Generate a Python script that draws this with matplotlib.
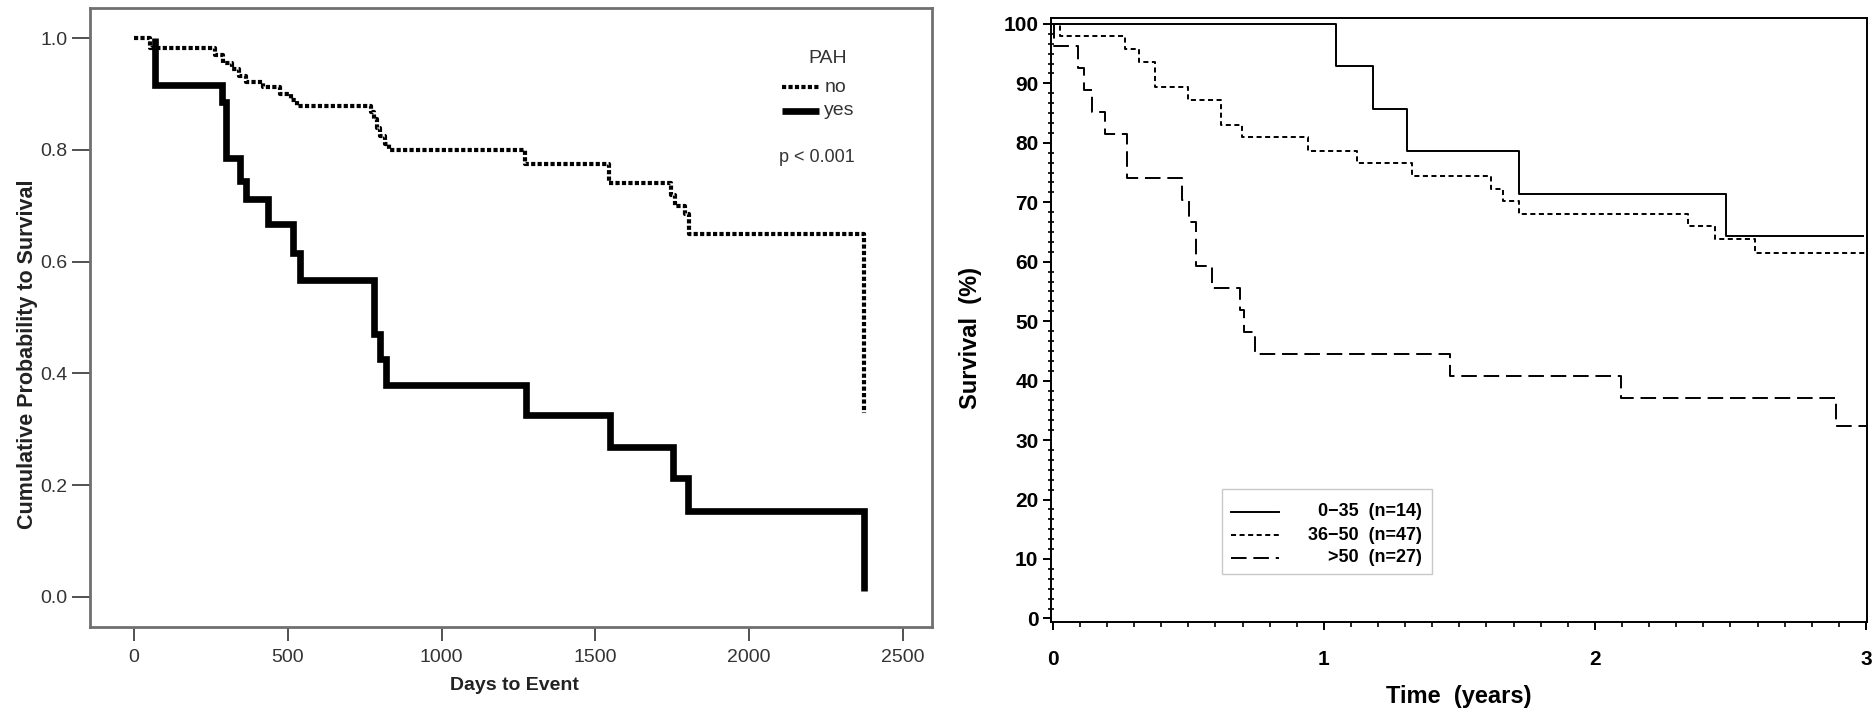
import matplotlib
matplotlib.use("Agg")
import matplotlib.pyplot as plt
from matplotlib.ticker import MultipleLocator, AutoMinorLocator, FormatStrFormatter
from matplotlib.patches import Rectangle

plt.rcParams['font.family'] = ['Liberation Sans', 'DejaVu Sans']

# left panel: Kaplan-Meier by PAH (days to event)
yes_days = [70, 70, 287, 300, 345, 365, 437, 518, 540, 780, 800, 820, 1275, 1549, 1753, 1802, 2372]
yes_surv = [1.0, 0.917, 0.885, 0.785, 0.745, 0.713, 0.667, 0.615, 0.567, 0.47, 0.425, 0.38, 0.325, 0.268, 0.212, 0.153, 0.01]
no_days = [0, 52, 265, 290, 320, 340, 365, 420, 475, 510, 530, 770, 780, 790, 800, 815, 830,
           1272, 1545, 1745, 1760, 1790, 1805, 2372]
no_surv = [1.0, 0.982, 0.97, 0.955, 0.945, 0.932, 0.922, 0.912, 0.90, 0.89, 0.878, 0.868, 0.855,
           0.84, 0.825, 0.81, 0.80, 0.775, 0.74, 0.72, 0.70, 0.685, 0.65, 0.33]
pah_labels = ['no', 'yes']
p_text = 'p < 0.001'

# right panel: survival (%) by age group (years)
grp_labels = ['0\u221235  (n=14)', '36\u221250  (n=47)', '>50  (n=27)']
g1_t = [0, 1.045, 1.18, 1.305, 1.72, 2.485]
g1_s = [100, 92.9, 85.7, 78.6, 71.4, 64.3]
g1_end = 2.99
g2_t = [0, 0.025, 0.266, 0.317, 0.376, 0.499, 0.62, 0.699, 0.942, 1.123, 1.327, 1.615, 1.662,
        1.721, 2.344, 2.443, 2.59]
g2_s = [100, 97.9, 95.7, 93.6, 89.4, 87.2, 83.0, 80.9, 78.7, 76.6, 74.5, 72.3, 70.2, 68.1,
        66.0, 63.8, 61.5]
g2_end = 3.0
g3_t = [0, 0.005, 0.093, 0.116, 0.145, 0.192, 0.274, 0.478, 0.503, 0.53, 0.586, 0.69, 0.705,
        0.745, 1.465, 2.098, 2.89]
g3_s = [100, 96.3, 92.6, 88.9, 85.2, 81.5, 74.1, 70.4, 66.7, 59.3, 55.6, 51.9, 48.1, 44.4,
        40.7, 37.0, 32.4]
g3_end = 3.0

fig = plt.figure(figsize=(18.73, 7.11), dpi=100)

# ---------------- left panel
ax1 = fig.add_axes([0.048, 0.1181, 0.4496, 0.8706])
no_style = dict(color='black', lw=3.0, linestyle=(0, (1.0, 0.55)), dash_capstyle='butt')
yes_style = dict(color='black', lw=4.8, solid_joinstyle='miter', solid_capstyle='butt')
ax1.step(no_days, no_surv, where='post', **no_style)
ax1.step(yes_days, yes_surv, where='post', **yes_style)
ax1.set_xlim(-143, 2594)
ax1.set_ylim(-0.054, 1.054)
ax1.xaxis.set_major_locator(MultipleLocator(500))
ax1.yaxis.set_major_locator(MultipleLocator(0.2))
ax1.yaxis.set_major_formatter(FormatStrFormatter('%.1f'))
for sp in ax1.spines.values():
    sp.set_color('#707070')
    sp.set_linewidth(2.0)
ax1.tick_params(axis='both', width=1.2, color='#333333', labelcolor='#333333', labelsize=14)
ax1.tick_params(axis='y', length=13, pad=3)
ax1.tick_params(axis='x', length=10, pad=6)
ax1.set_xlabel('Days to Event', fontsize=14, fontweight='bold', color='#222222')
ax1.xaxis.set_label_coords(0.5036, -0.08)
ax1.set_ylabel('Cumulative Probability to Survival', fontsize=15.5, fontweight='bold',
               color='#222222')
ax1.yaxis.set_label_coords(-0.062, 0.44)

# legend (PAH)
ax1.text(0.8765, 0.919, 'PAH', transform=ax1.transAxes, ha='center', va='center',
         fontsize=14, color='#333333')
ax1.plot([0.822, 0.866], [0.872, 0.872], transform=ax1.transAxes, **no_style)
ax1.plot([0.822, 0.866], [0.834, 0.834], transform=ax1.transAxes, **yes_style)
ax1.text(0.872, 0.872, pah_labels[0], transform=ax1.transAxes, ha='left', va='center',
         fontsize=14, color='#333333')
ax1.text(0.872, 0.834, pah_labels[1], transform=ax1.transAxes, ha='left', va='center',
         fontsize=14, color='#333333')
ax1.text(0.863, 0.759, p_text, transform=ax1.transAxes, ha='center', va='center',
         fontsize=13, color='#333333')

# ---------------- right panel
ax2 = fig.add_axes([0.5611, 0.1252, 0.4357, 0.8495])
s1 = dict(color='black', lw=1.4, linestyle='-')
s2 = dict(color='black', lw=1.4, linestyle=(0, (2.6, 1.8)))
s3 = dict(color='black', lw=1.4, linestyle=(0, (8, 3.5)))
ax2.step(g1_t + [g1_end], g1_s + [g1_s[-1]], where='post', **s1)
ax2.step(g2_t + [g2_end], g2_s + [g2_s[-1]], where='post', **s2)
ax2.step(g3_t + [g3_end], g3_s + [g3_s[-1]], where='post', **s3)
ax2.set_xlim(-0.007, 3.004)
ax2.set_ylim(-0.6, 101)
ax2.xaxis.set_major_locator(MultipleLocator(1))
ax2.xaxis.set_minor_locator(AutoMinorLocator(10))
ax2.yaxis.set_major_locator(MultipleLocator(10))
ax2.yaxis.set_minor_locator(AutoMinorLocator(6))
for sp in ax2.spines.values():
    sp.set_color('black')
    sp.set_linewidth(1.4)
ax2.tick_params(axis='both', which='major', length=6, width=1.4, labelsize=15)
ax2.tick_params(axis='y', which='major', direction='out', pad=3)
ax2.tick_params(axis='y', which='minor', direction='inout', length=4, width=1.2)
ax2.tick_params(axis='x', which='major', direction='out', pad=14)
ax2.tick_params(axis='x', which='minor', direction='out', length=3.5, width=1.2)
for lab in ax2.get_xticklabels() + ax2.get_yticklabels():
    lab.set_fontweight('bold')
ax2.set_xlabel('Time  (years)', fontsize=17, fontweight='bold')
ax2.xaxis.set_label_coords(0.5, -0.105)
ax2.set_ylabel('Survival  (%)', fontsize=17, fontweight='bold')
ax2.yaxis.set_label_coords(-0.084, 0.47)

# legend (age groups)
ax2.add_patch(Rectangle((0.2096, 0.0795), 0.2574, 0.1405, transform=ax2.transAxes,
                        fill=False, edgecolor='#c8c8c8', lw=1.0))
rows = [0.1821, 0.144, 0.106]
for lab, st, yy in zip(grp_labels, [s1, s2, s3], rows):
    ax2.plot([0.2206, 0.2794], [yy, yy], transform=ax2.transAxes, **st)
    ax2.text(0.4547, yy, lab, transform=ax2.transAxes, ha='right', va='center',
             fontsize=13, fontweight='bold')

fig.savefig('out.png', dpi=100)
